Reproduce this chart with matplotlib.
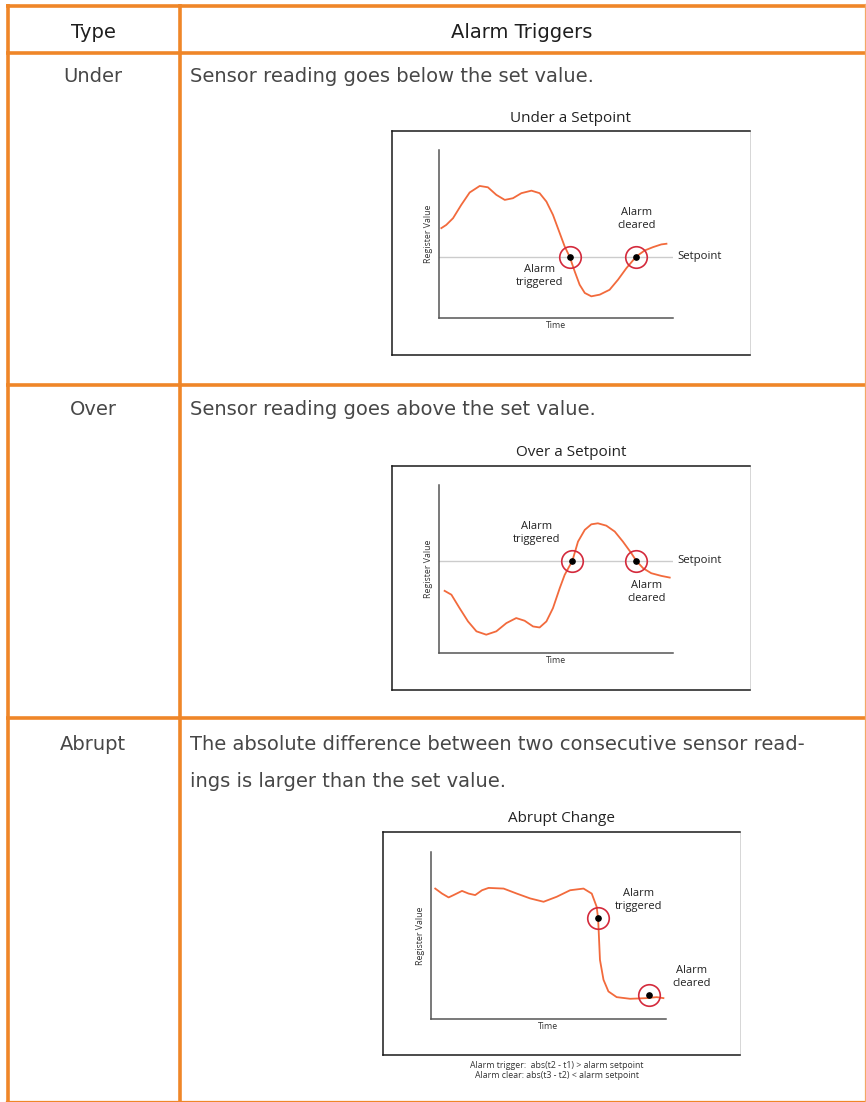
import matplotlib.pyplot as plt
import numpy as np

# table content
col_headers = ['Type', 'Alarm Triggers']
row_types = ['Under', 'Over', 'Abrupt']
row_texts = ['Sensor reading goes below the set value.',
             'Sensor reading goes above the set value.',
             'The absolute difference between two consecutive sensor read-\nings is larger than the set value.']
diagram_titles = ['Under a Setpoint', 'Over a Setpoint', 'Abrupt Change']

# curves (time, register value, both 0-100)
under_t = [1.0, 3.1, 6.0, 9.5, 13.1, 17.4, 20.9, 24.5, 28.1, 31.6, 35.2, 39.5, 43.0, 45.9, 48.7,
           51.6, 53.7, 55.8, 58.0, 60.1, 62.3, 65.1, 68.7, 72.9, 76.5, 80.1, 84.3, 87.9, 91.5, 95.0, 97.2]
under_v = [53.5, 55.4, 59.4, 67.3, 74.7, 78.6, 77.8, 73.3, 70.3, 71.3, 74.3, 75.8, 74.3, 69.3, 61.4,
           50.5, 42.6, 36.6, 27.7, 19.8, 14.9, 12.9, 13.9, 16.8, 22.8, 29.7, 36.6, 40.2, 42.2, 43.8, 44.2]
under_setpoint = 36.6
under_alarm_t = [55.8, 84.3]
under_alarm_v = [36.6, 36.6]

over_t = [2.4, 5.3, 8.8, 12.4, 16.0, 20.2, 24.5, 28.8, 33.0, 36.6, 40.2, 43.0, 45.9, 48.7, 51.6,
          53.7, 57.0, 59.4, 62.3, 65.1, 67.9, 71.5, 75.1, 78.6, 82.2, 84.3, 87.2, 90.7, 95.0, 98.6]
over_v = [37.0, 34.7, 26.7, 18.8, 12.9, 10.9, 12.9, 17.8, 20.8, 19.2, 15.8, 15.2, 18.8, 26.7, 38.6,
          46.5, 54.9, 66.3, 73.3, 76.6, 77.2, 75.8, 72.3, 66.3, 59.4, 54.9, 50.5, 47.5, 45.9, 44.9]
over_setpoint = 54.9
over_alarm_t = [57.0, 84.3]
over_alarm_v = [54.9, 54.9]

abrupt_t = [1.8, 4.7, 7.5, 9.6, 13.2, 16.0, 18.8, 21.7, 24.5, 30.9, 36.5, 42.2, 47.9, 53.5, 59.2,
            64.9, 68.4, 70.5, 71.1, 71.4, 71.9, 73.4, 75.5, 79.0, 84.7, 91.8, 96.0, 98.9]
abrupt_v = [78.1, 75.1, 72.8, 74.2, 76.7, 75.1, 74.2, 77.1, 78.5, 78.1, 75.1, 72.2, 70.2, 73.2, 77.1,
            78.1, 75.1, 67.2, 60.2, 51.3, 35.4, 23.5, 16.5, 13.1, 12.1, 12.5, 13.1, 12.5]
abrupt_alarm_t = [71.0, 92.9]
abrupt_alarm_v = [60.2, 14.5]
abrupt_notes = 'Alarm trigger:  abs(t2 - t1) > alarm setpoint\nAlarm clear: abs(t3 - t2) < alarm setpoint'

W, H = 866, 1102
ORANGE = '#ef8628'
CURVE = '#f26a3c'
RING = '#d42a3c'
TXT = '#474747'

fig = plt.figure(figsize=(W / 100, H / 100), dpi=100)
base = fig.add_axes([0, 0, 1, 1])
base.set_xlim(0, W)
base.set_ylim(H, 0)
base.axis('off')

# table grid
row_lines = [5.5, 53, 385, 718]
for y in row_lines:
    base.plot([6, 866], [y, y], color=ORANGE, lw=2.6, solid_capstyle='butt')
base.plot([6, 866], [1101, 1101], color=ORANGE, lw=0.9)
base.plot([8, 8], [4, 1102], color=ORANGE, lw=2.6, solid_capstyle='butt')
base.plot([180, 180], [4, 1102], color=ORANGE, lw=2.6, solid_capstyle='butt')
base.plot([864.5, 864.5], [4, 1102], color='#f3a866', lw=0.9)

tfont = dict(family='DejaVu Sans', fontsize=14, color=TXT, va='baseline')
base.text(93, 38.5, col_headers[0], ha='center', **{**tfont, 'color': '#1e1e1e'})
base.text(522, 38.5, col_headers[1], ha='center', **{**tfont, 'color': '#1e1e1e'})
row_base = [82, 415, 750]
for i in range(3):
    base.text(93, row_base[i], row_types[i], ha='center', **tfont)
    for j, line in enumerate(row_texts[i].split('\n')):
        base.text(190, row_base[i] + 37 * j, line, ha='left', **tfont)


def px_axes(x0, y0, x1, y1):
    return fig.add_axes([x0 / W, 1 - y1 / H, (x1 - x0) / W, (y1 - y0) / H])


def diagram(box, inner_box, title, t, v, alarm_t, alarm_v, setpoint=None):
    frame = px_axes(*box)
    frame.set_xticks([])
    frame.set_yticks([])
    for s in ['top', 'left', 'bottom']:
        frame.spines[s].set_color('#1a1a1a')
        frame.spines[s].set_linewidth(1.1)
    frame.spines['right'].set_color('#d0d0d0')
    frame.spines['right'].set_linewidth(0.6)
    base.text((box[0] + box[2]) / 2, box[1] - 13, title, ha='center', va='center',
              family='Open Sans', fontsize=11, color='#222222')

    ax = px_axes(*inner_box)
    ax.set_facecolor('none')
    ax.set_xlim(0, 100)
    ax.set_ylim(0, 100)
    ax.set_xticks([])
    ax.set_yticks([])
    ax.spines['top'].set_visible(False)
    ax.spines['right'].set_visible(False)
    for s in ['left', 'bottom']:
        ax.spines[s].set_color('#555555')
        ax.spines[s].set_linewidth(1.1)
    ax.set_xlabel('Time', family='Open Sans', fontsize=6.3, color='#333333', labelpad=2.5)
    ax.set_ylabel('Register Value', family='Open Sans', fontsize=6.3, color='#333333', labelpad=4)
    if setpoint is not None:
        ax.axhline(setpoint, color='#cccccc', lw=1.0)
        ax.text(102, setpoint, 'Setpoint', ha='left', va='center', family='Open Sans',
                fontsize=8.2, color='#222222')
    ax.plot(t, v, color=CURVE, lw=1.3, clip_on=False)
    ax.plot(alarm_t, alarm_v, 'o', ms=15.5, mfc='none', mec=RING, mew=1.2, clip_on=False)
    ax.plot(alarm_t, alarm_v, 'o', ms=3.8, color='black', clip_on=False)
    return ax


lab = dict(ha='center', va='center', family='Open Sans', fontsize=8, color='#222222',
           linespacing=1.25)

ax1 = diagram((392, 131, 750, 355), (439, 150, 673, 318), diagram_titles[0],
              under_t, under_v, under_alarm_t, under_alarm_v, under_setpoint)
ax1.text(43.0, 24.8, 'Alarm\ntriggered', **lab)
ax1.text(84.3, 58.8, 'Alarm\ncleared', **lab)

ax2 = diagram((392, 466, 750, 690), (439, 485, 673, 653), diagram_titles[1],
              over_t, over_v, over_alarm_t, over_alarm_v, over_setpoint)
ax2.text(41.6, 71.3, 'Alarm\ntriggered', **lab)
ax2.text(88.6, 36.6, 'Alarm\ncleared', **lab)

ax3 = diagram((383, 832, 740, 1055), (431, 852, 666, 1019), diagram_titles[2],
              abrupt_t, abrupt_v, abrupt_alarm_t, abrupt_alarm_v)
ax3.text(88.2, 71.2, 'Alarm\ntriggered', **lab)
ax3.text(110.9, 24.9, 'Alarm\ncleared', **lab)
base.text(557, 1070.5, abrupt_notes, ha='center', va='center', family='Open Sans',
          fontsize=6.3, color='#333333', linespacing=1.25)

fig.savefig('out.png', dpi=100)
